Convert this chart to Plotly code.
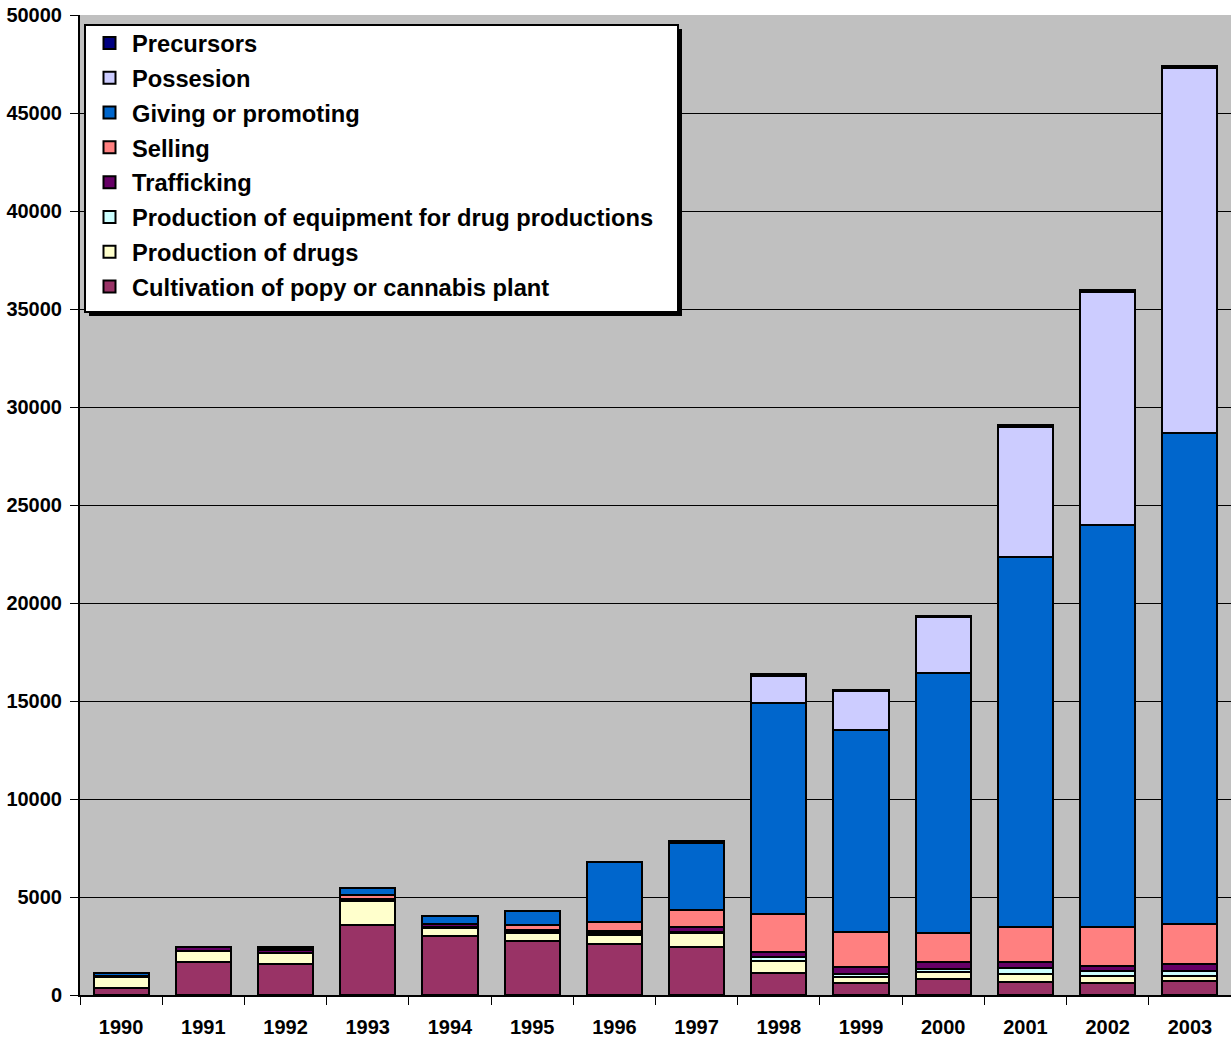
import plotly.graph_objects as go

years = ["1990", "1991", "1992", "1993", "1994", "1995", "1996",
         "1997", "1998", "1999", "2000", "2001", "2002", "2003"]

cultivation = [360, 1690, 1580, 3570, 3010, 2760, 2600, 2450, 1120, 610, 820, 660, 610, 710]
production_drugs = [560, 560, 560, 1220, 410, 410, 460, 710, 610, 310, 360, 410, 360, 255]
production_equipment = [0, 0, 0, 60, 50, 50, 100, 50, 200, 150, 150, 300, 255, 255]
trafficking = [50, 200, 150, 60, 150, 100, 100, 255, 255, 360, 360, 300, 255, 360]
selling = [0, 0, 0, 200, 0, 250, 460, 875, 1940, 1780, 1470, 1800, 1990, 2040]
giving = [150, 0, 100, 350, 410, 720, 3070, 3420, 10770, 10300, 13270, 18880, 20510, 25050]
possession = [0, 0, 0, 0, 0, 0, 0, 50, 1380, 2000, 2860, 6630, 11890, 18630]
precursors = [0, 0, 50, 0, 0, 0, 0, 50, 80, 30, 50, 100, 90, 100]

series = [
    ("Cultivation of popy or cannabis plant", cultivation, "#993366"),
    ("Production of drugs", production_drugs, "#FFFFCC"),
    ("Production of equipment for drug productions", production_equipment, "#CCFFFF"),
    ("Trafficking", trafficking, "#660066"),
    ("Selling", selling, "#FF8080"),
    ("Giving or promoting", giving, "#0066CC"),
    ("Possesion", possession, "#CCCCFF"),
    ("Precursors", precursors, "#000080"),
]

y_ticks = list(range(0, 50001, 5000))

fig = go.Figure()
n = len(series)
for i, (name, vals, color) in enumerate(series):
    fig.add_trace(go.Bar(
        x=years, y=vals, name=name,
        marker=dict(color=color, line=dict(color="black", width=2)),
        legendgroup=f"g{i}",
        legendrank=n - i,
    ))

FONT = "Liberation Sans, Arial, sans-serif"

W, H = 1231, 1039
ml, mr, mt, mb = 80, 0, 15, 44
pw, ph = W - ml - mr, H - mt - mb

def px_x(p):
    return (p - ml) / pw

def px_y(p):
    return (H - mb - p) / ph

# legend shadow and box
fig.add_shape(type="rect", xref="paper", yref="paper",
              x0=px_x(89), x1=px_x(682), y0=px_y(316), y1=px_y(29),
              fillcolor="black", line=dict(width=0), layer="above")
fig.add_shape(type="rect", xref="paper", yref="paper",
              x0=px_x(85), x1=px_x(678), y0=px_y(312), y1=px_y(25),
              fillcolor="white", line=dict(color="black", width=2), layer="above")

fig.update_layout(
    width=W, height=H,
    margin=dict(l=ml, r=mr, t=mt, b=mb),
    barmode="stack",
    bargap=0.33,
    paper_bgcolor="white",
    plot_bgcolor="#C0C0C0",
    font=dict(family=FONT, color="black"),
    legend=dict(
        x=px_x(87), y=px_y(21), xanchor="left", yanchor="top",
        bgcolor="rgba(0,0,0,0)", borderwidth=0,
        font=dict(family=FONT, size=23.7, color="black", weight="bold"),
        traceorder="grouped",
        tracegroupgap=1,
        itemwidth=35,
    ),
    xaxis=dict(
        type="category",
        tickson="boundaries",
        ticks="outside", ticklen=8, tickcolor="black", tickwidth=1,
        showline=True, linecolor="black", linewidth=2,
        tickfont=dict(family=FONT, size=20, color="black", weight="bold"),
        ticklabelstandoff=13,
        range=[-0.5, 13.5],
    ),
    yaxis=dict(
        range=[0, 50000],
        tickvals=y_ticks,
        ticktext=[str(v) for v in y_ticks],
        ticks="outside", ticklen=8, tickcolor="black", tickwidth=1,
        showline=True, linecolor="black", linewidth=2,
        showgrid=True, gridcolor="#000000", gridwidth=1,
        zeroline=False,
        tickfont=dict(family=FONT, size=20, color="black", weight="bold"),
        ticklabelstandoff=4,
    ),
)

fig.write_html("out.html")
